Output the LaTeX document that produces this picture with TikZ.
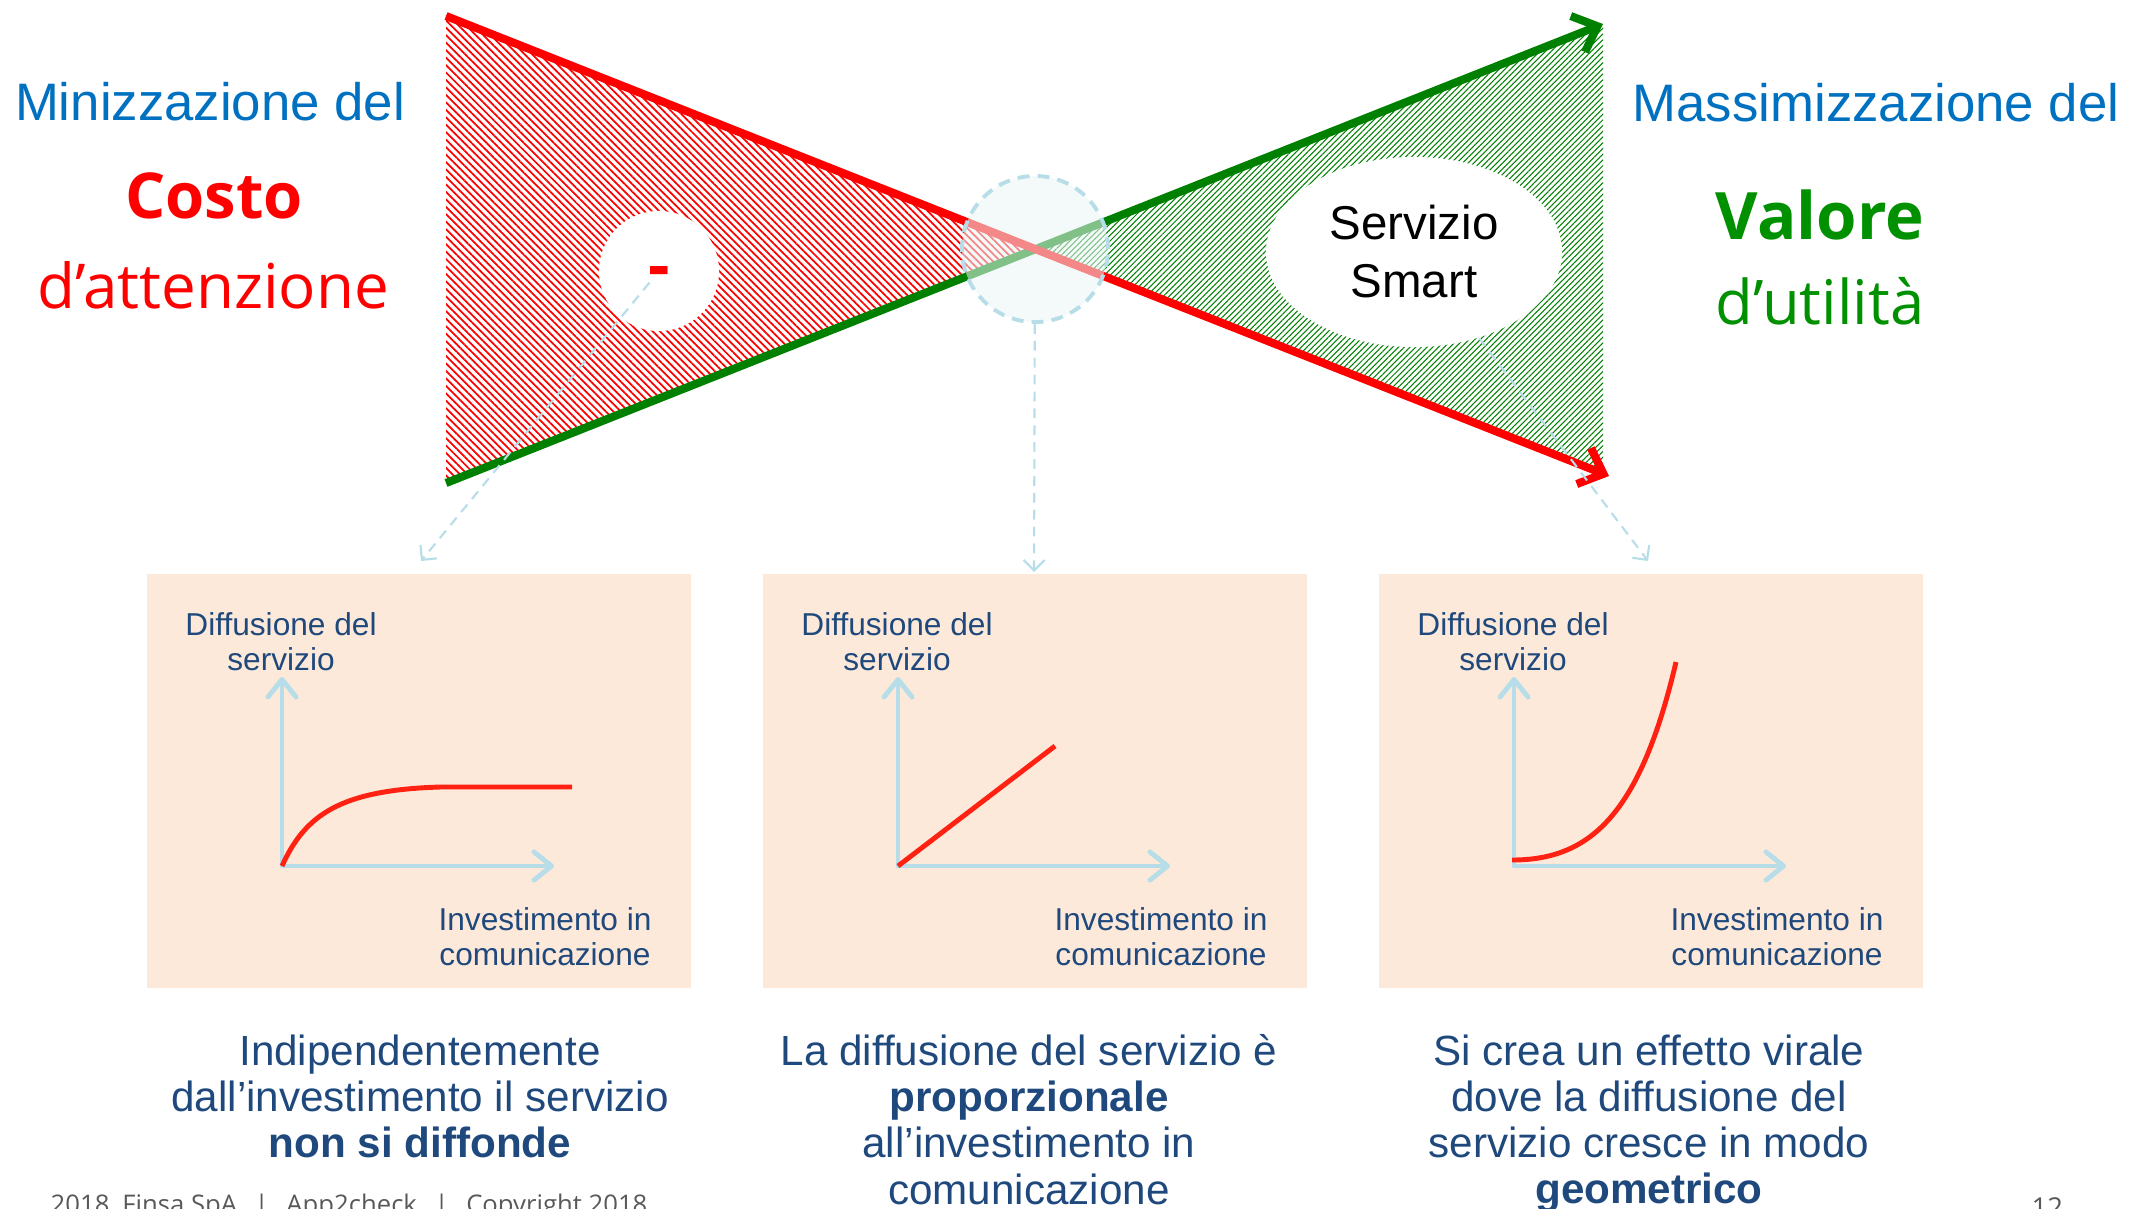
\documentclass[tikz,border=0pt]{standalone}
\usepackage{fontspec}
\setmainfont{Liberation Sans}
\newfontfamily\opensans{Open Sans}
\usetikzlibrary{arrows.meta,patterns.meta,shapes.geometric}

\definecolor{titleblue}{HTML}{0070C0}
\definecolor{textblue}{HTML}{1F497D}
\definecolor{axisblue}{HTML}{B7DEE8}
\definecolor{haze}{HTML}{EBF6F6}
\definecolor{peach}{HTML}{FDE9D9}
\definecolor{trendred}{HTML}{FF2111}
\definecolor{darkgreen}{HTML}{008000}
\definecolor{valgreen}{HTML}{009000}
\definecolor{footgrey}{HTML}{595959}

\begin{document}
\begin{tikzpicture}[x=0.01cm,y=-0.01cm,
    panel/.style={fill=peach,minimum width=5.44cm,minimum height=4.14cm,inner sep=0},
    chartaxis/.style={axisblue,line width=1.4pt,line cap=round,line join=round,
      {Straight Barb[round,length=5pt,width=8pt]}-{Straight Barb[round,length=5pt,width=8pt]}},
    trend/.style={trendred,line width=1.4pt},
    axlabel/.style={textblue,align=center,anchor=north,inner sep=0,font=\fontsize{9}{10}\selectfont},
    capt/.style={textblue,align=center,anchor=north,inner sep=0,font=\fontsize{12}{13.1}\selectfont},
    pointer/.style={axisblue,line width=0.6pt,dash pattern=on 2.8pt off 2pt,-{Straight Barb[length=3pt,width=6pt]}},
    bigline/.style={line width=2.3pt,-{Straight Barb[length=6pt,width=11pt]}}]
  \useasboundingbox (0,0) rectangle (2134,1208);

  % bow tie
  \coordinate (rstart) at (446,16);
  \coordinate (rend) at (1609,476);
  \coordinate (gstart) at (446,483);
  \coordinate (gend) at (1603,24);
  \coordinate (mid) at (1035,249);
  \fill[pattern={Lines[angle=-45,distance=1.5pt,line width=0.5pt]},pattern color=red] (rstart) -- (gstart) -- (mid) -- cycle;
  \fill[pattern={Lines[angle=45,distance=1.15pt,line width=0.3pt]},pattern color=darkgreen] (mid) -- (1603,25) -- (1603,474) -- cycle;

  \node[circle,fill=white,minimum size=1.2cm,inner sep=0,text=red,font=\opensans\bfseries\fontsize{19}{19}\selectfont] (minus) at (659,271) {\raisebox{-5pt}[0pt][0pt]{-}};
  \node[ellipse,fill=white,minimum width=2.96cm,minimum height=1.9cm,inner sep=0,align=center,font=\fontsize{13.5}{16.5}\selectfont] (serv) at (1414,252) {Servizio\\Smart};

  \draw[bigline,darkgreen] (gstart) -- (gend);
  \draw[bigline,red] (rstart) -- (rend);
  \node[circle,minimum size=1.46cm,draw=axisblue,line width=1.1pt,dash pattern=on 3.4pt off 2.3pt,fill=haze,fill opacity=0.55,draw opacity=1] (cross) at (mid) {};

  % panels
  \node[panel] (pan1) at (419,781) {};
  \node[panel] (pan2) at (1035,781) {};
  \node[panel] (pan3) at (1651,781) {};

  \coordinate (o1) at (282,866);
  \coordinate (o2) at (898,866);
  \coordinate (o3) at (1514,866);
  \draw[chartaxis] (o1) ++(0,-189) -- (o1) -- ++(272,0);
  \draw[chartaxis] (o2) ++(0,-189) -- (o2) -- ++(272,0);
  \draw[chartaxis] (o3) ++(0,-189) -- (o3) -- ++(272,0);

  \draw[trend] (o1) .. controls (305,815) and (340,790) .. (440,787) -- (572,787);
  \draw[trend] (o2) -- (1055,746);
  \draw[trend] (1512,860) .. controls (1590,860) and (1640,815) .. (1676,662);

  \node[axlabel] (dif1) at (281,612) {Diffusione del\\servizio};
  \node[axlabel] (dif2) at (897,612) {Diffusione del\\servizio};
  \node[axlabel] (dif3) at (1513,612) {Diffusione del\\servizio};
  \node[axlabel] (inv1) at (545,907) {Investimento in\\comunicazione};
  \node[axlabel] (inv2) at (1161,907) {Investimento in\\comunicazione};
  \node[axlabel] (inv3) at (1777,907) {Investimento in\\comunicazione};

  % dashed pointers
  \coordinate (tip1) at (421,561);
  \coordinate (tip2) at (1034,572);
  \coordinate (tip3) at (1648,561);
  \draw[pointer,shorten <=0.15cm] (minus.center) -- (tip1);
  \draw[pointer] (cross) -- (tip2);
  \draw[pointer] (serv) -- (tip3);

  % titles
  \node[anchor=base,text=titleblue,font=\fontsize{15}{15}\selectfont] (mintext) at (210,120) {Minizzazione del};
  \node[anchor=base,text=red,font=\opensans\bfseries\fontsize{18}{18}\selectfont] (costo) at (214,218) {Costo};
  \node[anchor=base,text=red,font=\opensans\fontsize{17.6}{18}\selectfont] (att) at (213,308) {d’attenzione};
  \node[anchor=base,text=titleblue,font=\fontsize{15}{15}\selectfont] (maxtext) at (1876,121) {Massimizzazione del};
  \node[anchor=base,text=valgreen,font=\opensans\bfseries\fontsize{18.6}{19}\selectfont] (valore) at (1820,239) {Valore};
  \node[anchor=base,text=valgreen,font=\opensans\fontsize{17.5}{18}\selectfont] (util) at (1820,324) {d’utilità};

  % captions
  \node[capt] (cap1) at (420,1034) {Indipendentemente\\dall’investimento il servizio\\\textbf{non si diffonde}};
  \node[capt] (cap2) at (1029,1034) {La diffusione del servizio è\\\textbf{proporzionale}\\all’investimento in\\comunicazione};
  \node[capt] (cap3) at (1649,1034) {Si crea un effetto virale\\dove la diffusione del\\servizio cresce in modo\\\textbf{geometrico}};

  % footer
  \node[anchor=base west,inner sep=0,text=footgrey,font=\opensans\fontsize{7.3}{8}\selectfont] (foot) at (50,1213) {2018, Finsa SpA\hspace{5pt}|\hspace{5pt}App2check\hspace{5pt}|\hspace{5pt}Copyright 2018};
  \node[anchor=base west,inner sep=0,text=footgrey,font=\opensans\fontsize{7.8}{8}\selectfont] (page) at (2031,1217) {12};
\end{tikzpicture}
\end{document}
